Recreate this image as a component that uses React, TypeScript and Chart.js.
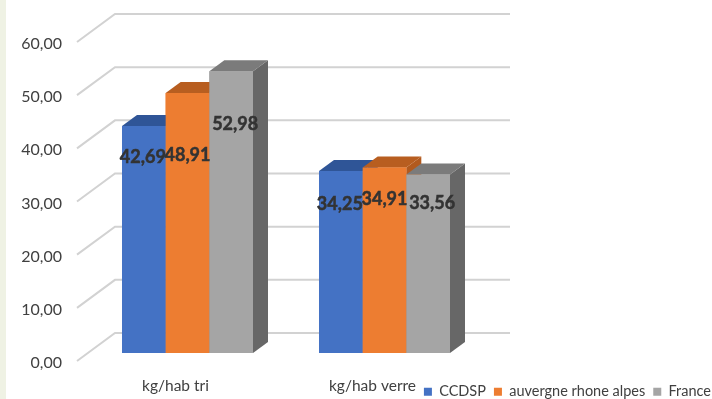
import { useEffect, useRef } from "react";
import { Chart, registerables } from "chart.js";

Chart.register(...registerables);

const categories = ["kg/hab tri", "kg/hab verre"];
const seriesNames = ["CCDSP", "auvergne rhone alpes", "France"];
const ccdsp = [42.69, 34.25];
const auvergne = [48.91, 34.91];
const france = [52.98, 33.56];

const frontColors = ["#4472C4", "#ED7D31", "#A5A5A5"];
const topColors = ["#2F5597", "#B85E20", "#7B7B7B"];
const sideColors = ["#2F5597", "#B25A1E", "#676767"];

// Nudges of the value labels relative to the top-centre of each bar: [dx, dy] by series, then category.
const labelNudges = [
  [[-1, 31], [-1, 33]],
  [[0, 62], [0, 32]],
  [[4, 53], [4, 29]],
];

const DEPTH_X = 15;
const DEPTH_Y = 11;
const WALL_X0 = 77;
const WALL_X1 = 115;
const WALL_RIGHT = 510;
const FLOOR_BOTTOM = 353;

const comma = (v: number) => v.toFixed(2).replace(".", ",");

const poly = (ctx: CanvasRenderingContext2D, pts: number[][], fill: string) => {
  ctx.beginPath();
  pts.forEach(([x, y], i) => (i ? ctx.lineTo(x, y) : ctx.moveTo(x, y)));
  ctx.closePath();
  ctx.fillStyle = fill;
  ctx.fill();
};

// Lets the category labels run below their box and puts the legend in the bottom-right corner.
const placementPlugin = {
  id: "placement",
  afterLayout(chart: any) {
    chart.scales.x.bottom = 399;
    const legend = chart.legend;
    const h = legend.height;
    legend.left = 300;
    legend.right = 719;
    legend.top = 399 - h + 10;
    legend.bottom = legend.top + h;
  },
};

// Back wall and left wall gridlines, offset from the front plane of the value scale.
const wallPlugin = {
  id: "wall",
  beforeDatasetsDraw(chart: any) {
    const { ctx, scales } = chart;
    ctx.save();
    ctx.strokeStyle = "#D2D2D2";
    ctx.lineWidth = 2;
    for (const tick of scales.y.ticks) {
      const y = scales.y.getPixelForValue(tick.value);
      ctx.beginPath();
      ctx.moveTo(WALL_X0, y + 8);
      ctx.lineTo(WALL_X1, y - 20);
      ctx.lineTo(WALL_RIGHT, y - 20);
      ctx.stroke();
    }
    ctx.restore();
  },
};

// Extrudes each bar into a box, painting left to right so nearer boxes cover farther ones.
const boxPlugin = {
  id: "boxes",
  afterDatasetsDraw(chart: any) {
    const { ctx } = chart;
    chart.data.datasets.forEach((_: any, d: number) => {
      chart.getDatasetMeta(d).data.forEach((bar: any) => {
        const { x, y, base, width } = bar.getProps(["x", "y", "base", "width"], true);
        const l = x - width / 2;
        const r = x + width / 2;
        poly(ctx, [[r, y], [r + DEPTH_X, y - DEPTH_Y], [r + DEPTH_X, base - DEPTH_Y], [r, base]], sideColors[d]);
        poly(ctx, [[l, y], [l + DEPTH_X, y - DEPTH_Y], [r + DEPTH_X, y - DEPTH_Y], [r, y]], topColors[d]);
        bar.draw(ctx);
      });
    });
    ctx.save();
    ctx.font = "bold 18px Lato";
    ctx.fillStyle = "#333333";
    ctx.strokeStyle = "#333333";
    ctx.lineWidth = 0.5;
    ctx.textAlign = "center";
    ctx.textBaseline = "middle";
    chart.data.datasets.forEach((ds: any, d: number) => {
      chart.getDatasetMeta(d).data.forEach((bar: any, i: number) => {
        const [dx, dy] = labelNudges[d][i];
        const text = comma(ds.data[i]);
        ctx.fillText(text, bar.x + dx, bar.y + dy);
        ctx.strokeText(text, bar.x + dx, bar.y + dy);
      });
    });
    ctx.restore();
  },
};

export default function App() {
  const ref = useRef<HTMLCanvasElement>(null);
  useEffect(() => {
    const chart = new Chart(ref.current as HTMLCanvasElement, {
      type: "bar",
      data: {
        labels: categories,
        datasets: [ccdsp, auvergne, france].map((data, i) => ({
          label: seriesNames[i],
          data,
          backgroundColor: frontColors[i],
        })),
      },
      options: {
        responsive: false,
        animation: false,
        layout: { padding: { top: 34, right: 229, left: 0, bottom: 0 } },
        datasets: { bar: { categoryPercentage: 0.665, barPercentage: 1 } },
        plugins: {
          tooltip: { enabled: false },
          legend: {
            position: "bottom",
            align: "end",
            labels: {
              boxWidth: 8,
              boxHeight: 8,
              padding: 8,
              color: "#404040",
              font: { family: "Lato", size: 14.5 },
            },
          },
        },
        scales: {
          x: {
            grid: { display: false },
            border: { display: false },
            afterFit(scale: any) {
              scale.height = 399 - FLOOR_BOTTOM - (scale.chart.legend?.height ?? 0);
              scale.paddingLeft = 0;
              scale.paddingRight = 0;
            },
            ticks: {
              color: "#404040",
              padding: 16,
              labelOffset: -12,
              maxRotation: 0,
              font: { family: "Lato", size: 15.5 },
            },
          },
          y: {
            min: 0,
            max: 60,
            grid: { display: false, drawTicks: false },
            border: { display: false },
            afterFit(scale: any) {
              scale.width = 89;
              scale.paddingTop = 0;
              scale.paddingBottom = 0;
            },
            ticks: {
              stepSize: 10,
              color: "#404040",
              padding: 27,
              labelOffset: 10,
              font: { family: "Lato", size: 16 },
              callback: (v: any) => comma(Number(v)),
            },
          },
        },
      },
      plugins: [placementPlugin, wallPlugin, boxPlugin],
    } as any);
    return () => chart.destroy();
  }, []);
  return (
    <div style={{ position: "absolute", left: 0, top: 0, width: 712, height: 399, overflow: "hidden", background: "#fff" }}>
      <div style={{ position: "absolute", left: 0, top: 0, width: 6, height: 399, background: "#EFF2E4" }} />
      <canvas ref={ref} width={712} height={399} style={{ position: "absolute", left: 0, top: 0, display: "block" }} />
    </div>
  );
}
